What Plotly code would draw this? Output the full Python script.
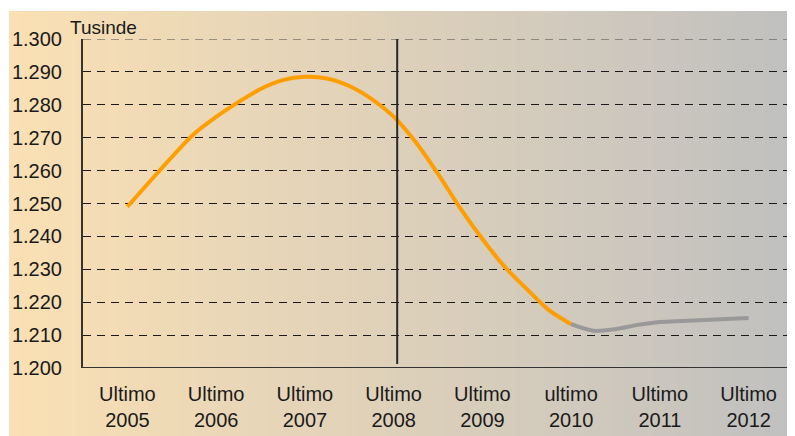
import plotly.graph_objects as go

# ==========================================================
# Data (tusinde)
# ==========================================================

year_labels = [
    "Ultimo<br>2005", "Ultimo<br>2006", "Ultimo<br>2007", "Ultimo<br>2008",
    "Ultimo<br>2009", "ultimo<br>2010", "Ultimo<br>2011", "Ultimo<br>2012",
]

actual_x = [0, 0.25, 0.5, 0.75, 1, 1.25, 1.5, 1.75, 2, 2.25, 2.5, 2.75,
            3, 3.25, 3.5, 3.75, 4, 4.25, 4.5, 4.75, 5]
actual_y = [1249.0, 1256.6, 1264.1, 1271.1, 1276.3, 1280.8, 1284.8, 1287.5,
            1288.5, 1288.0, 1285.7, 1281.8, 1276.4, 1268.6, 1259.0, 1248.6,
            1239.2, 1230.8, 1224.0, 1217.6, 1213.3]

forecast_x = [5, 5.25, 5.5, 5.75, 6, 6.25, 6.5, 6.75, 7]
forecast_y = [1213.3, 1211.3, 1211.8, 1213.1, 1214.0, 1214.3, 1214.6, 1214.9, 1215.2]

y_ticks = [1200, 1210, 1220, 1230, 1240, 1250, 1260, 1270, 1280, 1290, 1300]

divider_x = 3.04

# ==========================================================
# Figure (page body has an 8px margin, so the figure is 8px smaller)
# ==========================================================

W, H = 787, 428
L, R, T, B = 75, 2, 31, 68
pw, ph = W - L - R, H - T - B

fig = go.Figure()

fig.add_trace(go.Scatter(
    x=actual_x, y=actual_y, mode="lines",
    line=dict(color="#FF9E00", width=4, shape="spline", smoothing=0.8),
    hoverinfo="skip",
))
fig.add_trace(go.Scatter(
    x=forecast_x, y=forecast_y, mode="lines",
    line=dict(color="#999999", width=4, shape="spline", smoothing=0.8),
    hoverinfo="skip",
))


def px_x(p):
    return (p - L) / pw


def px_y(p):
    return (H - B - p) / ph


# gradient background built from thin vertical stripes
left_rgb = (250, 224, 180)
right_rgb = (192, 192, 192)
x_start, x_end = 1, W + 8
n = 80
shapes = []
for i in range(n):
    t = i / (n - 1)
    c = tuple(int(round(a + (b - a) * t)) for a, b in zip(left_rgb, right_rgb))
    x0 = x_start + (x_end - x_start) * i / n
    x1 = x_start + (x_end - x_start) * (i + 1) / n + 1
    shapes.append(dict(
        type="rect", xref="paper", yref="paper", layer="below",
        x0=px_x(x0), x1=px_x(x1), y0=px_y(H + 10), y1=px_y(3),
        fillcolor="rgb(%d,%d,%d)" % c, line=dict(width=0),
    ))

# top gridline (plotly hides the one on the range edge)
shapes.append(dict(
    type="line", xref="paper", yref="y",
    x0=0, x1=1, y0=1300, y1=1300,
    line=dict(color="#444444", width=1, dash="8px,6px"),
))

shapes.append(dict(
    type="line", xref="x", yref="y",
    x0=divider_x, x1=divider_x, y0=1201.2, y1=1303.6,
    line=dict(color="#2a2a2a", width=2),
))

# bottom axis line
shapes.append(dict(
    type="line", xref="paper", yref="y",
    x0=0, x1=1, y0=1200, y1=1200,
    line=dict(color="#333333", width=2),
))

fig.update_layout(
    width=W, height=H,
    margin=dict(l=L, r=R, t=T, b=B, autoexpand=False),
    paper_bgcolor="white",
    plot_bgcolor="rgba(0,0,0,0)",
    showlegend=False,
    separators=",.",
    font=dict(family="Liberation Sans, Arial", color="#1a1a1a", size=20),
    shapes=shapes,
    xaxis=dict(
        range=[-0.5, 7.5],
        tickvals=list(range(len(year_labels))),
        ticktext=year_labels,
        showgrid=False, zeroline=False,
        showline=False,
        ticks="", ticklabelstandoff=12,
        tickfont=dict(size=20),
        automargin=False,
        fixedrange=True,
    ),
    yaxis=dict(
        range=[1200, 1300],
        tickvals=y_ticks,
        tickformat=",d",
        showgrid=True, gridcolor="#1a1a1a", gridwidth=1, griddash="8px,6px",
        zeroline=False,
        showline=True, linecolor="#333333", linewidth=2,
        ticks="", ticklabelstandoff=15,
        tickfont=dict(size=20),
        automargin=False,
        fixedrange=True,
    ),
    annotations=[dict(
        text="Tusinde", xref="paper", yref="paper",
        x=px_x(60), y=px_y(19), xanchor="left", yanchor="middle",
        showarrow=False, font=dict(size=19, color="#1a1a1a"),
    )],
)

fig.write_html("out.html")
